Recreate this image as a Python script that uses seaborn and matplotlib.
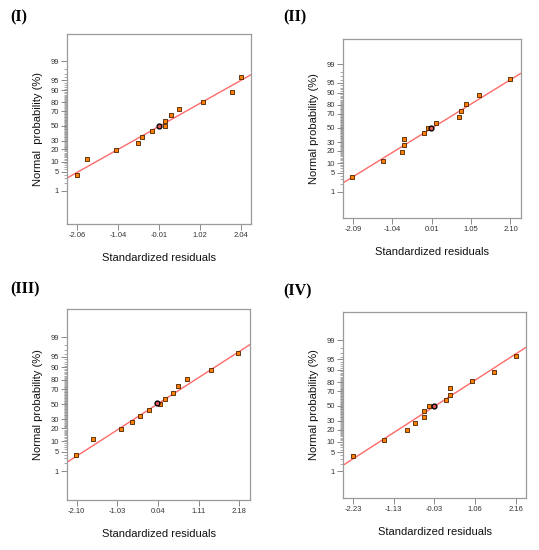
import math
import numpy as np
import pandas as pd
import seaborn as sns
import matplotlib
matplotlib.use("Agg")
import matplotlib.pyplot as plt

sns.set_theme(style="white")
plt.rcParams['font.family'] = ['Liberation Sans', 'DejaVu Sans']

# valores: residuos estandarizados y probabilidad normal (%)
res_I = [-2.06, -1.81, -1.08, -0.54, -0.43, -0.19, -0.01, 0.13, 0.13, 0.30, 0.50, 1.08, 1.82, 2.03]
prob_I = [3.8, 11.5, 19.2, 26.9, 34.6, 42.3, 50, 50, 57.7, 65.4, 73.1, 80.8, 88.5, 96.2]
ticks_I = [-2.06, -1.04, -0.01, 1.02, 2.04]

res_II = [-2.10, -1.29, -0.79, -0.74, -0.74, -0.19, -0.08, 0.00, 0.11, 0.72, 0.78, 0.92, 1.26, 2.10]
prob_II = [3.8, 11.5, 19.2, 26.9, 34.6, 42.3, 50, 50, 57.7, 65.4, 73.1, 80.8, 88.5, 96.2]
ticks_II = [-2.09, -1.04, 0.01, 1.05, 2.10]

res_III = [-2.11, -1.67, -0.93, -0.65, -0.43, -0.21, 0.01, 0.09, 0.22, 0.44, 0.57, 0.81, 1.43, 2.15]
prob_III = [3.8, 11.5, 19.2, 26.9, 34.6, 42.3, 52, 50, 57.7, 65.4, 73.1, 80.8, 88.5, 96.2]
ticks_III = [-2.10, -1.03, 0.04, 1.11, 2.18]

res_IV = [-2.22, -1.39, -0.77, -0.55, -0.30, -0.30, -0.18, -0.03, 0.28, 0.40, 0.40, 0.99, 1.58, 2.17]
prob_IV = [3.8, 11.5, 19.2, 26.9, 34.6, 42.3, 50, 49.5, 57.7, 65.4, 73.1, 80.8, 88.5, 96.2]
ticks_IV = [-2.23, -1.13, -0.03, 1.06, 2.16]

# punto resaltado con circulo en cada panel
highlight = [6, 7, 6, 7]
# recta normal: media y desviacion
line_mu = [0.01, 0.02, 0.02, -0.01]
line_sd = [1.24, 1.18, 1.18, 1.18]

titles = ['(I)', '(II)', '(III)', '(IV)']
ylab = ['Normal  probability (%)', 'Normal probability (%)',
        'Normal probability (%)', 'Normal probability (%)']
yticks_major = [1, 5, 10, 20, 30, 50, 70, 80, 90, 95, 99]

# escala probit
zgrid = np.linspace(-7, 7, 6001)
cgrid = 50 * (1 + np.vectorize(math.erf)(zgrid / math.sqrt(2)))


def fwd(p):
    return np.interp(np.asarray(p, dtype=float), cgrid, zgrid)


def inv(z):
    return np.interp(np.asarray(z, dtype=float), zgrid, cgrid)


panels = [(res_I, prob_I, ticks_I), (res_II, prob_II, ticks_II),
          (res_III, prob_III, ticks_III), (res_IV, prob_IV, ticks_IV)]

# posiciones en pixeles (izq, der, arriba, abajo) y limites
W, H = 539, 550
boxes = [(67, 251, 34, 224), (343, 521, 39, 218), (67, 250, 309, 500), (343, 526, 312, 498)]
xlims = [(-2.31, 2.29), (-2.35, 2.38), (-2.355, 2.46), (-2.50, 2.44)]
zlims = [(-3.52, 3.30), (-3.29, 3.25), (-3.32, 3.30), (-3.27, 3.33)]
title_pos = [(10, 17), (283, 17), (10, 289), (283, 291)]

fig = plt.figure(figsize=(W / 100, H / 100), dpi=100)

for i, (res, prob, xt) in enumerate(panels):
    l, r, t, b = boxes[i]
    ax = fig.add_axes([l / W, 1 - b / H, (r - l) / W, (b - t) / H])
    ax.set_yscale('function', functions=(fwd, inv))
    df = pd.DataFrame({'res': res, 'prob': prob})

    # recta de ajuste normal
    xs = np.linspace(xlims[i][0], xlims[i][1], 50)
    line_df = pd.DataFrame({'x': xs, 'p': inv((xs - line_mu[i]) / line_sd[i])})
    sns.lineplot(data=line_df, x='x', y='p', ax=ax, color='#ff6a6a', lw=1, zorder=2)

    sns.scatterplot(data=df.drop(index=highlight[i]), x='res', y='prob', ax=ax,
                    marker='s', s=8, color='#ff8000', edgecolor='#4a2000',
                    linewidth=0.6, zorder=3)
    sns.scatterplot(data=df.loc[[highlight[i]]], x='res', y='prob', ax=ax,
                    marker='o', s=12, color='#e25a5a', edgecolor='black',
                    linewidth=1.0, zorder=4)

    ax.set_xlim(*xlims[i])
    ax.set_ylim(inv(zlims[i][0]), inv(zlims[i][1]))
    ax.set_xticks(xt)
    ax.set_xticklabels([f'{v:.2f}' for v in xt])
    ax.set_yticks(yticks_major)
    ax.set_yticklabels([str(v) for v in yticks_major])
    ax.set_yticks([v for v in range(2, 99) if v not in yticks_major], minor=True)
    ax.tick_params(axis='both', which='major', labelsize=5.5, labelcolor='#333333',
                   length=4.5, width=0.6, color='#777777', direction='out', pad=1.5)
    ax.tick_params(axis='y', which='minor', length=2.5, width=0.5, color='#888888',
                   direction='out', left=True)
    ax.tick_params(axis='x', which='major', bottom=True)
    ax.tick_params(axis='y', which='major', left=True)

    for s in ax.spines.values():
        s.set_color('#9a9a9a')
        s.set_linewidth(0.9)

    ax.set_xlabel('Standardized residuals', fontsize=8, color='#111111', labelpad=10)
    ax.set_ylabel(ylab[i], fontsize=8, color='#111111', labelpad=5)

    fig.text(title_pos[i][0] / W, 1 - title_pos[i][1] / H, titles[i],
             family='Liberation Serif', fontweight='bold', fontsize=11.5,
             va='center', ha='left', color='black')

plt.savefig('out.png', dpi=100)
